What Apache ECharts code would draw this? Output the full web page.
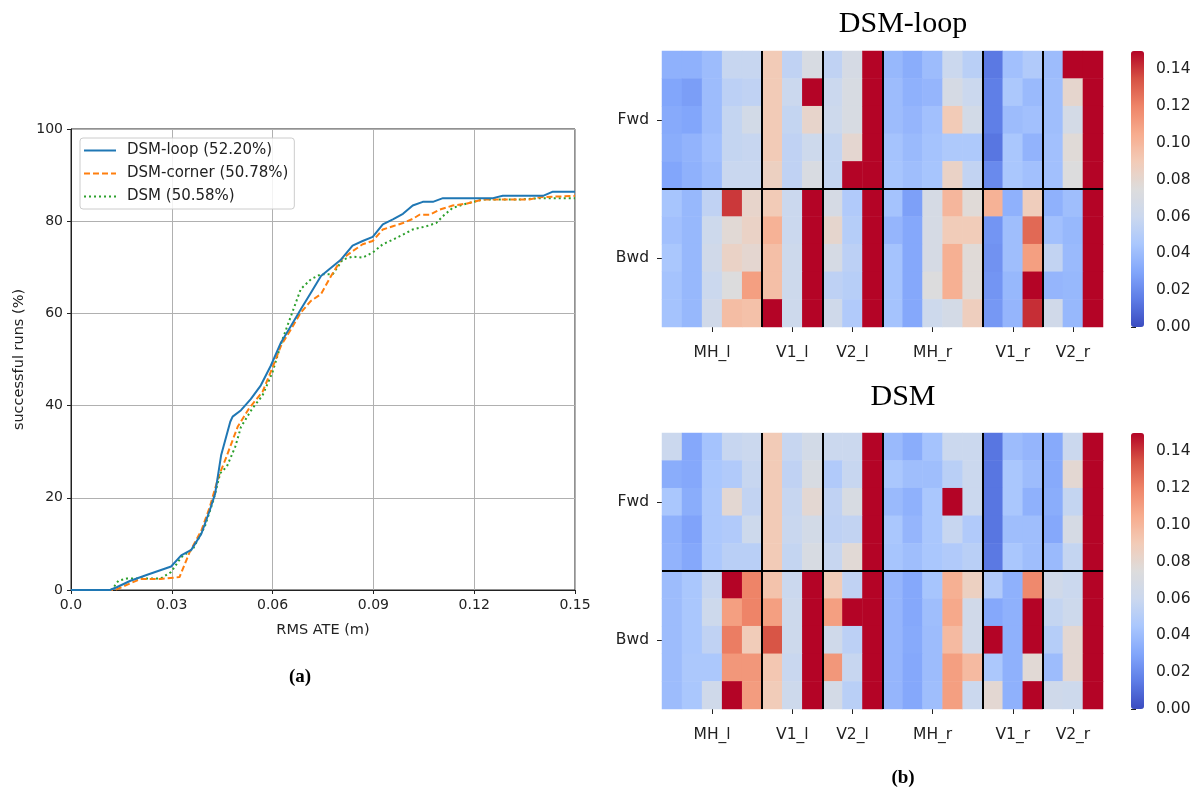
<!DOCTYPE html>
<html>
<head>
<meta charset="utf-8">
<script src="https://cdn.jsdelivr.net/npm/echarts@6/dist/echarts.min.js"></script>
<style>
  html, body { margin: 0; padding: 0; background: #fff; }
  #chart { width: 1199px; height: 793px; }
</style>
</head>
<body>
<div id="chart"></div>
<script>
// (a) success curves: [RMS ATE (m), successful runs (%)]
const loopCurve = [[0,0],[0.0116,0],[0.0136,0.6],[0.0177,2],[0.0227,3.3],[0.0298,5.1],[0.0328,7.5],[0.0358,8.7],[0.0388,12.2],[0.0413,17.3],[0.0429,20.9],[0.0447,29.3],[0.0474,36.5],[0.0481,37.6],[0.0506,39],[0.0535,41.4],[0.0565,44.4],[0.0595,48.7],[0.0625,53.7],[0.0655,57.3],[0.0684,60.9],[0.0714,64.5],[0.0744,68.1],[0.0774,69.9],[0.0804,71.7],[0.0838,74.7],[0.0868,75.7],[0.0898,76.6],[0.0928,79.3],[0.0958,80.4],[0.0988,81.6],[0.1017,83.4],[0.1047,84.2],[0.1077,84.2],[0.1107,85],[0.1256,85],[0.1285,85.5],[0.1405,85.5],[0.1434,86.4],[0.15,86.4]];
const cornerCurve = [[0,0],[0.0131,0],[0.0207,2.4],[0.0267,2.4],[0.0323,2.8],[0.0353,8.2],[0.0388,12.9],[0.0413,18],[0.0439,24.6],[0.0459,28.2],[0.0496,35.4],[0.053,39.4],[0.057,43],[0.06,48.3],[0.0625,53],[0.0655,56.6],[0.0684,60.2],[0.0714,62.7],[0.0744,64.2],[0.0774,68.1],[0.0804,71.7],[0.0838,73.5],[0.0868,75],[0.0898,75.7],[0.0928,78.2],[0.0958,78.9],[0.0988,79.6],[0.1017,80.5],[0.1037,81.4],[0.1067,81.4],[0.1097,82.5],[0.1136,83.4],[0.1176,83.8],[0.1226,84.7],[0.1364,84.7],[0.1395,85.2],[0.15,85.5]];
const dsmCurve = [[0,0],[0.0121,0],[0.0141,2],[0.0166,2.5],[0.0267,2.5],[0.0298,3.9],[0.0328,7.1],[0.0363,8.9],[0.0398,13.7],[0.0424,19.5],[0.0444,25.3],[0.0464,26.8],[0.0489,31.1],[0.0506,35.4],[0.054,39.4],[0.057,42.2],[0.06,47.3],[0.063,54.5],[0.0655,59.5],[0.0684,65.3],[0.0714,67.4],[0.0744,68.5],[0.0779,68.5],[0.0809,71.7],[0.0838,72.3],[0.0868,72.1],[0.0898,73.2],[0.0928,75],[0.0958,76],[0.0988,77.1],[0.1017,78.2],[0.1057,78.9],[0.1087,79.6],[0.1107,81.1],[0.1136,82.9],[0.1176,83.8],[0.1226,84.7],[0.1335,84.7],[0.1395,85],[0.15,85]];
const curveNames = ["DSM-loop (52.20%)", "DSM-corner (50.78%)", "DSM (50.58%)"];

// (b) heatmaps, rows: Fwd x5 then Bwd x5, columns grouped below
const colGroups = [["MH_l", 5], ["V1_l", 3], ["V2_l", 3], ["MH_r", 5], ["V1_r", 3], ["V2_r", 3]];
const rowGroups = [["Fwd", 5], ["Bwd", 5]];
const colorTicks = [0, 0.02, 0.04, 0.06, 0.08, 0.10, 0.12, 0.14];

const loopVals = [
  [0.035,0.035,0.040,0.058,0.058,0.090,0.055,0.070,0.055,0.068,0.15, 0.038,0.033,0.040,0.060,0.052,0.014,0.042,0.048,0.040,0.15, 0.15],
  [0.030,0.027,0.040,0.053,0.055,0.090,0.060,0.15, 0.060,0.070,0.15, 0.040,0.035,0.037,0.068,0.060,0.016,0.046,0.039,0.041,0.081,0.15],
  [0.032,0.030,0.040,0.057,0.066,0.090,0.057,0.082,0.062,0.070,0.15, 0.040,0.037,0.042,0.090,0.066,0.016,0.040,0.042,0.041,0.067,0.15],
  [0.033,0.036,0.042,0.057,0.058,0.090,0.055,0.062,0.057,0.080,0.15, 0.043,0.039,0.043,0.047,0.047,0.013,0.045,0.036,0.042,0.077,0.15],
  [0.030,0.035,0.040,0.059,0.059,0.086,0.055,0.071,0.057,0.15, 0.15, 0.044,0.041,0.044,0.084,0.056,0.020,0.045,0.042,0.042,0.074,0.15],
  [0.044,0.038,0.055,0.140,0.082,0.090,0.060,0.15, 0.068,0.048,0.15, 0.043,0.028,0.068,0.100,0.077,0.102,0.035,0.088,0.035,0.041,0.15],
  [0.042,0.038,0.062,0.078,0.084,0.102,0.060,0.15, 0.081,0.050,0.15, 0.037,0.031,0.068,0.089,0.089,0.024,0.041,0.128,0.042,0.038,0.15],
  [0.045,0.038,0.064,0.084,0.080,0.096,0.062,0.15, 0.068,0.053,0.15, 0.043,0.031,0.068,0.103,0.077,0.023,0.041,0.110,0.056,0.039,0.15],
  [0.043,0.038,0.060,0.074,0.110,0.096,0.062,0.15, 0.054,0.051,0.15, 0.043,0.031,0.074,0.103,0.077,0.024,0.038,0.15, 0.037,0.038,0.15],
  [0.043,0.038,0.064,0.097,0.095,0.15, 0.062,0.15, 0.063,0.048,0.15, 0.043,0.031,0.062,0.067,0.087,0.025,0.037,0.142,0.064,0.038,0.15]
];
const dsmVals = [
  [0.060,0.031,0.043,0.058,0.060,0.090,0.058,0.066,0.060,0.060,0.15, 0.039,0.033,0.043,0.060,0.060,0.013,0.040,0.037,0.032,0.060,0.15],
  [0.033,0.031,0.045,0.048,0.058,0.090,0.055,0.070,0.048,0.058,0.15, 0.045,0.041,0.041,0.052,0.060,0.013,0.045,0.040,0.032,0.079,0.15],
  [0.045,0.033,0.046,0.079,0.056,0.090,0.058,0.079,0.055,0.070,0.15, 0.039,0.035,0.045,0.15, 0.060,0.013,0.045,0.035,0.033,0.057,0.15],
  [0.035,0.029,0.046,0.048,0.062,0.090,0.059,0.066,0.054,0.056,0.15, 0.045,0.037,0.045,0.058,0.048,0.013,0.041,0.041,0.031,0.068,0.15],
  [0.036,0.031,0.046,0.052,0.052,0.090,0.057,0.070,0.058,0.078,0.15, 0.044,0.041,0.045,0.048,0.052,0.014,0.045,0.041,0.039,0.057,0.15],
  [0.040,0.045,0.058,0.15, 0.120,0.094,0.060,0.15, 0.089,0.055,0.15, 0.037,0.031,0.044,0.103,0.086,0.048,0.035,0.118,0.064,0.060,0.15],
  [0.040,0.045,0.062,0.110,0.120,0.110,0.062,0.15, 0.110,0.15, 0.15, 0.037,0.031,0.041,0.106,0.064,0.031,0.035,0.15, 0.057,0.062,0.15],
  [0.040,0.045,0.055,0.122,0.089,0.134,0.062,0.15, 0.063,0.053,0.15, 0.037,0.032,0.040,0.098,0.064,0.15, 0.035,0.15, 0.050,0.079,0.15],
  [0.040,0.046,0.046,0.113,0.113,0.092,0.059,0.15, 0.113,0.058,0.15, 0.037,0.031,0.040,0.110,0.098,0.046,0.035,0.078,0.040,0.079,0.15],
  [0.040,0.045,0.063,0.15, 0.111,0.089,0.062,0.15, 0.067,0.052,0.15, 0.037,0.031,0.041,0.110,0.060,0.079,0.035,0.15, 0.063,0.062,0.15]
];

// coolwarm
const coolwarm = ["#3b4cc0","#5d7ce6","#82a6fb","#aac7fd","#cbd8ee","#dddcdc","#f2cbb7","#f7ac8e","#ee8468","#d65244","#b40426"];

// column / row label helpers
const nCols = colGroups.reduce((s, g) => s + g[1], 0);
const nRows = rowGroups.reduce((s, g) => s + g[1], 0);
const colLabel = [], colBreaks = [];
colGroups.forEach(g => {
  const start = colLabel.length;
  for (let i = 0; i < g[1]; i++) colLabel.push(i === Math.floor(g[1] / 2) ? g[0] : "");
  if (start > 0) colBreaks.push(start);
});
const rowLabel = [], rowBreaks = [];
rowGroups.forEach(g => {
  const start = rowLabel.length;
  for (let i = 0; i < g[1]; i++) rowLabel.push(i === Math.floor(g[1] / 2) ? g[0] : "");
  if (start > 0) rowBreaks.push(start);
});

function toCells(mat) {
  const out = [];
  mat.forEach((row, r) => row.forEach((v, c) => out.push([c, r, v])));
  return out;
}

const txt = "#222";
const sans = "DejaVu Sans";
const serif = "Liberation Serif";

const hmTops = [51, 433];
const hmLeft = 662, hmW = 441, hmH = 276;

const chart = echarts.init(document.getElementById("chart"));

const grid = [
  { left: 71, top: 129, width: 504, height: 461, show: true, borderColor: txt, borderWidth: 1 },
  { left: hmLeft, top: hmTops[0], width: hmW, height: hmH },
  { left: hmLeft, top: hmTops[1], width: hmW, height: hmH },
  { left: hmLeft, top: hmTops[0], width: hmW, height: hmH },
  { left: hmLeft, top: hmTops[1], width: hmW, height: hmH },
  { left: 1131, top: hmTops[0], width: 13, height: hmH },
  { left: 1131, top: hmTops[1], width: 13, height: hmH }
];

const xAxis = [
  {
    gridIndex: 0, type: "value", min: 0, max: 0.15, interval: 0.03,
    name: "RMS ATE (m)", nameLocation: "middle", nameGap: 33,
    nameTextStyle: { fontFamily: sans, fontSize: 14.5, color: txt },
    axisLine: { show: true, lineStyle: { color: txt } },
    axisTick: { show: true, length: 4, lineStyle: { color: txt } },
    axisLabel: { fontFamily: sans, fontSize: 14, color: txt, margin: 8,
      formatter: v => v === 0 ? "0.0" : v.toFixed(2) },
    splitLine: { show: true, lineStyle: { color: "#b0b0b0", width: 1 } }
  }
];
const yAxis = [
  {
    gridIndex: 0, type: "value", min: 0, max: 100, interval: 20,
    name: "successful runs (%)", nameLocation: "middle", nameGap: 44,
    nameTextStyle: { fontFamily: sans, fontSize: 14.5, color: txt },
    axisLine: { show: true, lineStyle: { color: txt } },
    axisTick: { show: true, length: 4, lineStyle: { color: txt } },
    axisLabel: { fontFamily: sans, fontSize: 14, color: txt, margin: 8 },
    splitLine: { show: true, lineStyle: { color: "#b0b0b0", width: 1 } }
  }
];

[1, 2].forEach(gi => {
  xAxis.push({
    gridIndex: gi, type: "category", data: colLabel.map((_, i) => "c" + i),
    axisLine: { show: false },
    axisTick: { show: true, alignWithLabel: true, length: 5, interval: i => colLabel[i] !== "", lineStyle: { color: txt } },
    axisLabel: { interval: i => colLabel[i] !== "", formatter: (v, i) => colLabel[i],
      fontFamily: sans, fontSize: 15.5, color: txt, margin: 18 },
    splitLine: { show: false }
  });
  yAxis.push({
    gridIndex: gi, type: "category", inverse: true, data: rowLabel.map((_, i) => "r" + i),
    axisLine: { show: false },
    axisTick: { show: true, alignWithLabel: true, length: 5, interval: i => rowLabel[i] !== "", lineStyle: { color: txt } },
    axisLabel: { interval: i => rowLabel[i] !== "", formatter: (v, i) => rowLabel[i],
      fontFamily: sans, fontSize: 15.5, color: txt, margin: 13 },
    splitLine: { show: false }
  });
});
[3, 4].forEach(gi => {
  xAxis.push({ gridIndex: gi, type: "value", min: 0, max: nCols, show: false });
  yAxis.push({ gridIndex: gi, type: "value", min: 0, max: nRows, inverse: true, show: false });
});
[5, 6].forEach(gi => {
  xAxis.push({ gridIndex: gi, type: "value", min: 0, max: 1, show: false });
  yAxis.push({
    gridIndex: gi, type: "value", min: 0, max: 0.15, position: "right",
    axisLine: { show: false },
    axisTick: { show: true, length: 5, customValues: colorTicks, lineStyle: { color: txt } },
    axisLabel: { customValues: colorTicks, formatter: v => v.toFixed(2),
      fontFamily: sans, fontSize: 15.5, color: txt, margin: 12 },
    splitLine: { show: false }
  });
});

const curveColors = ["#1f77b4", "#ff7f0e", "#2ca02c"];
const curveDash = ["solid", [6, 3], [2, 3]];
const series = [loopCurve, cornerCurve, dsmCurve].map((d, i) => ({
  name: curveNames[i], type: "line", xAxisIndex: 0, yAxisIndex: 0,
  data: d, symbol: "none", animation: false, z: 3 - i,
  color: curveColors[i],
  lineStyle: { color: curveColors[i], width: 2, type: curveDash[i] }
}));

[loopVals, dsmVals].forEach((mat, k) => {
  series.push({
    type: "heatmap", xAxisIndex: 1 + k, yAxisIndex: 1 + k,
    data: toCells(mat), animation: false, progressive: 0,
    itemStyle: { borderWidth: 0 }, emphasis: { disabled: true }
  });
});
[3, 4].forEach(ai => {
  series.push({
    type: "line", xAxisIndex: ai, yAxisIndex: ai, data: [], animation: false,
    markLine: {
      silent: true, symbol: ["none", "none"], label: { show: false }, animation: false,
      lineStyle: { color: "#000", width: 2, type: "solid" },
      data: colBreaks.map(c => ({ xAxis: c })).concat(rowBreaks.map(r => ({ yAxis: r })))
    }
  });
});

const visualMap = [0, 1].map(k => ({
  type: "continuous", min: 0, max: 0.15, seriesIndex: 3 + k,
  calculable: false, hoverLink: false, realtime: false,
  left: 1131, top: hmTops[k], itemWidth: 13, itemHeight: hmH, padding: 0,
  text: null, showLabel: false, indicatorSize: 0, handleSize: 0,
  indicatorStyle: { opacity: 0 }, handleStyle: { opacity: 0 },
  inRange: { color: coolwarm }
}));

chart.setOption({
  backgroundColor: "#fff",
  animation: false,
  grid: grid,
  xAxis: xAxis,
  yAxis: yAxis,
  visualMap: visualMap,
  legend: {
    data: curveNames, orient: "vertical", left: 80, top: 138,
    padding: [5, 6, 5, 3], itemGap: 8, itemWidth: 32, itemHeight: 14,
    itemStyle: { opacity: 0 },
    backgroundColor: "rgba(255,255,255,0.85)", borderColor: "#cccccc", borderWidth: 1, borderRadius: 3,
    textStyle: { fontFamily: sans, fontSize: 15, color: txt, padding: [0, 0, 0, 6] }
  },
  graphic: [
    { type: "text", x: 903, y: 24, style: { text: "DSM-loop", font: "30px '" + serif + "'", fill: "#000", textAlign: "center", textVerticalAlign: "middle" } },
    { type: "text", x: 903, y: 397, style: { text: "DSM", font: "30px '" + serif + "'", fill: "#000", textAlign: "center", textVerticalAlign: "middle" } },
    { type: "text", x: 300, y: 677, style: { text: "(a)", font: "bold 19px '" + serif + "'", fill: "#000", textAlign: "center", textVerticalAlign: "middle" } },
    { type: "text", x: 903, y: 778, style: { text: "(b)", font: "bold 19px '" + serif + "'", fill: "#000", textAlign: "center", textVerticalAlign: "middle" } }
  ],
  series: series
});
</script>
</body>
</html>
